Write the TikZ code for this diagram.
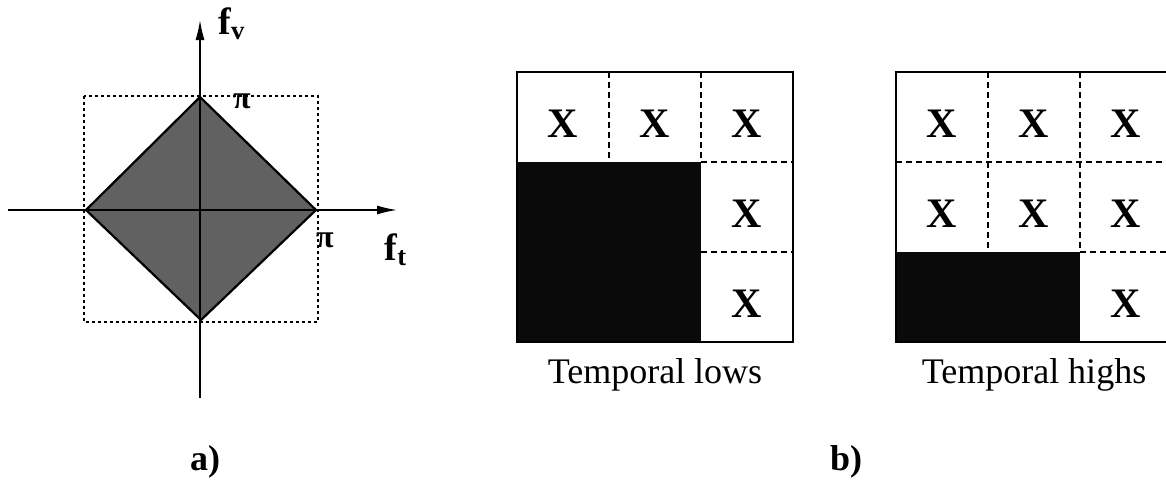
\documentclass[tikz,border=0pt]{standalone}
\usepackage{fontspec}
\setmainfont{Liberation Serif}
\usetikzlibrary{arrows.meta, positioning}

\begin{document}
\begin{tikzpicture}[x=0.5pt, y=-0.5pt,
    mark x/.style={font=\fontsize{21}{21}\selectfont\bfseries},
    cellline/.style={line width=0.65pt, dash pattern=on 3pt off 2pt},
    frame/.style={line width=1pt},
    axis/.style={line width=0.75pt, -{Latex[length=10pt, width=4.5pt]}},
    axislabel/.style={font=\fontsize{19}{19}\selectfont\bfseries},
    pilabel/.style={font=\fontsize{16}{16}\selectfont\bfseries},
    caption/.style={font=\fontsize{18}{18}\selectfont, anchor=base},
  ]
  \useasboundingbox (0,0) rectangle (1166,482);
  \clip (0,0) rectangle (1166,482);

  % a) support in the (f_t, f_v) plane
  \draw[line width=0.75pt, dash pattern=on 1.5pt off 1.5pt] (84,96) rectangle (318,322);
  \draw[line width=1.1pt, fill=black!62] (200,97) -- (316,210) -- (201,320) -- (86,210) -- cycle;
  \coordinate (ht0) at (8,210);
  \coordinate (ht1) at (397,210);
  \coordinate (vt0) at (200,398);
  \coordinate (vt1) at (200,20);
  \draw[axis] (ht0) -- (ht1);
  \draw[axis] (vt0) -- (vt1);
  \node[axislabel] (fv) at (232,24) {f\textsubscript{v}};
  \node[axislabel] (ft) at (396,250) {f\textsubscript{t}};
  \node[pilabel] (piv) at (242,101) {π};
  \node[pilabel] (pit) at (325,240) {π};
  \node[font=\fontsize{18}{18}\selectfont\bfseries] (capa) at (205,462) {a)};

  % b) temporal lows
  \begin{scope}[shift={(517,72)}]
    \fill[black!96] (0,90) rectangle (184,270);
    \draw[cellline] (92,0) -- (92,90) (184,0) -- (184,90)
      (184,90) -- (276,90) (184,180) -- (276,180);
    \draw[frame] (0,0) rectangle (276,270);
    \foreach \c in {0,1,2} {
      \node[mark x] (lo-1-\c) at (46+92*\c,52) {X};
    }
    \foreach \r in {2,3} {
      \node[mark x] (lo-\r-2) at (230,90*\r-38) {X};
    }
    \node[caption] (lows) at (138,311) {Temporal lows};
  \end{scope}

  % b) temporal highs
  \begin{scope}[shift={(896,72)}]
    \fill[black!96] (0,180) rectangle (184,270);
    \draw[cellline] (0,90) -- (276,90) (92,0) -- (92,180)
      (184,0) -- (184,180) (184,180) -- (276,180);
    \draw[frame] (0,0) rectangle (276,270);
    \foreach \r in {1,2} {
      \foreach \c in {0,1,2} {
        \node[mark x] (hi-\r-\c) at (46+92*\c,90*\r-38) {X};
      }
    }
    \node[mark x] (hi-3-2) at (230,232) {X};
    \node[caption] (highs) at (138,311) {Temporal highs};
  \end{scope}

  \node[font=\fontsize{18}{18}\selectfont\bfseries] (capb) at (846,462) {b)};
\end{tikzpicture}
\end{document}
